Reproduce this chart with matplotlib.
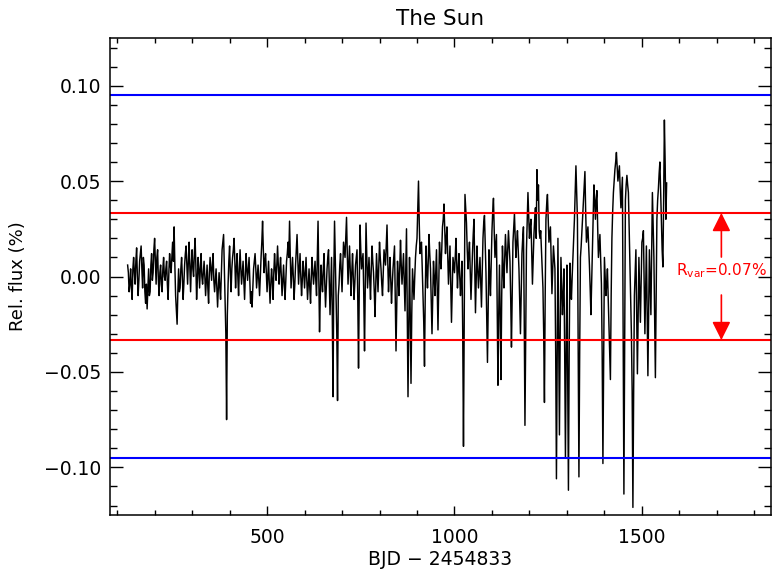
import matplotlib
matplotlib.use('Agg')
import matplotlib.pyplot as plt
from matplotlib.ticker import MultipleLocator

# ---- data (BJD - 2454833, relative flux in %) ----
days = [
    128, 132, 136, 140, 144, 148, 152, 156, 160, 164, 168, 172, 176, 180, 184, 188, 192, 196, 200, 204, 208, 212, 216, 220, 224,
    228, 232, 236, 240, 244, 248, 252, 256, 260, 264, 268, 272, 276, 280, 284, 288, 292, 296, 300, 304, 308, 312, 316, 320, 324,
    328, 332, 336, 340, 344, 348, 352, 356, 360, 364, 368, 372, 376, 380, 384, 388, 392, 396, 400, 404, 408, 412, 416, 420, 424,
    428, 432, 436, 440, 444, 448, 452, 456, 460, 464, 468, 472, 476, 480, 484, 488, 492, 496, 500, 504, 508, 512, 516, 520, 524,
    528, 532, 536, 540, 544, 548, 552, 556, 560, 564, 568, 572, 576, 580, 584, 588, 592, 596, 600, 604, 608, 612, 616, 620, 624,
    628, 632, 636, 640, 644, 648, 652, 656, 660, 664, 668, 672, 676, 680, 684, 688, 692, 696, 700, 704, 708, 712, 716, 720, 724,
    728, 732, 736, 740, 744, 748, 752, 756, 760, 764, 768, 772, 776, 780, 784, 788, 792, 796, 800, 804, 808, 812, 816, 820, 824,
    828, 832, 836, 840, 844, 848, 852, 856, 860, 864, 868, 872, 876, 880, 884, 888, 892, 896, 900, 904, 908, 912, 916, 920, 924,
    928, 932, 936, 940, 944, 948, 952, 956, 960, 964, 968, 972, 976, 980, 984, 988, 992, 996, 1000, 1004, 1008, 1012, 1016, 1020, 1024,
    1028, 1032, 1036, 1040, 1044, 1048, 1052, 1056, 1060, 1064, 1068, 1072, 1076, 1080, 1084, 1088, 1092, 1096, 1100, 1104, 1108, 1112, 1116, 1120, 1124,
    1128, 1132, 1136, 1140, 1144, 1148, 1152, 1156, 1160, 1164, 1168, 1172, 1176, 1180, 1184, 1188, 1192, 1196, 1200, 1204, 1208, 1212, 1216, 1220, 1224,
    1228, 1232, 1236, 1240, 1244, 1248, 1252, 1256, 1260, 1264, 1268, 1272, 1276, 1280, 1284, 1288, 1292, 1296, 1300, 1304, 1308, 1312, 1316, 1320, 1324,
    1328, 1332, 1336, 1340, 1344, 1348, 1352, 1356, 1360, 1364, 1368, 1372, 1376, 1380, 1384, 1388, 1392, 1396, 1400, 1404, 1408, 1412, 1416, 1420, 1424,
    1428, 1432, 1436, 1440, 1444, 1448, 1452, 1456, 1460, 1464, 1468, 1472, 1476, 1480, 1484, 1488, 1492, 1496, 1500, 1504, 1508, 1512, 1516, 1520, 1524,
    1528, 1532, 1536, 1540, 1544, 1548, 1552, 1556, 1560, 1564, 1566,
]

flux = [
    0.006, -0.008, 0.004, -0.012, 0.010, -0.004, 0.015, -0.010, 0.008, 0.016, -0.006, 0.006, -0.014, -0.017, 0.004, -0.008, 0.012, 0.002, 0.020, -0.004, 0.014, -0.010, 0.006, -0.008, 0.010,
    -0.002, 0.008, -0.012, 0.012, 0.002, 0.018, 0.026, -0.010, -0.025, 0.004, -0.006, 0.010, -0.012, 0.006, 0.016, -0.004, 0.018, -0.008, 0.014, 0.000, 0.020, -0.012, 0.010, -0.006, 0.012,
    -0.004, 0.008, -0.010, 0.006, -0.014, 0.010, -0.002, 0.012, -0.008, 0.004, -0.016, 0.002, -0.012, 0.014, 0.022, -0.014, -0.075, -0.004, 0.016, -0.008, 0.010, 0.020, -0.006, 0.012, -0.010,
    0.014, -0.004, 0.008, -0.012, 0.012, -0.002, 0.010, -0.014, -0.016, 0.004, 0.012, -0.006, 0.006, -0.010, 0.010, 0.029, 0.002, 0.012, -0.008, 0.008, -0.014, 0.004, -0.012, 0.012, -0.002,
    0.016, -0.004, 0.010, -0.010, 0.006, -0.012, 0.008, 0.018, 0.029, -0.006, 0.010, -0.012, 0.006, 0.022, -0.004, 0.012, -0.010, 0.008, -0.006, 0.010, -0.012, 0.004, -0.014, 0.010, -0.004,
    0.008, -0.010, 0.029, -0.029, 0.006, -0.008, 0.012, -0.016, 0.004, 0.014, -0.020, 0.010, -0.063, 0.029, -0.010, -0.065, -0.004, 0.012, -0.008, 0.018, 0.010, 0.031, -0.004, 0.016, -0.010,
    0.012, -0.012, 0.006, 0.014, -0.048, 0.027, 0.004, 0.012, -0.039, 0.028, -0.006, 0.010, -0.012, 0.016, 0.002, -0.021, 0.012, -0.008, 0.018, 0.004, -0.010, 0.014, 0.006, 0.027, -0.008,
    0.010, -0.014, 0.004, 0.016, -0.039, 0.008, -0.010, 0.019, -0.004, 0.012, -0.018, 0.025, -0.063, 0.010, -0.056, 0.004, -0.012, 0.010, 0.020, 0.050, 0.012, 0.018, -0.010, -0.047, 0.016,
    -0.006, 0.022, 0.004, -0.030, 0.008, -0.010, 0.014, -0.028, 0.018, 0.004, 0.026, 0.038, 0.012, 0.026, -0.004, 0.016, -0.024, 0.010, 0.002, 0.020, -0.006, 0.012, -0.010, 0.008, -0.089,
    0.043, 0.028, 0.004, 0.018, -0.012, 0.012, 0.030, -0.019, 0.016, -0.006, 0.010, -0.016, 0.020, 0.032, 0.002, -0.045, 0.014, -0.010, 0.024, 0.041, 0.010, 0.022, -0.057, 0.006, -0.054,
    0.016, -0.006, 0.022, 0.002, 0.024, 0.008, -0.037, 0.018, 0.033, 0.010, 0.024, 0.004, -0.030, 0.012, 0.026, -0.078, 0.014, 0.044, 0.020, 0.030, -0.004, 0.022, 0.036, 0.056, 0.048,
    0.020, 0.014, -0.006, -0.066, 0.030, 0.043, 0.018, 0.026, -0.009, 0.016, 0.004, -0.106, 0.020, -0.083, 0.010, -0.020, 0.004, -0.095, 0.006, -0.112, 0.007, -0.012, 0.010, 0.030, 0.058,
    0.030, -0.105, 0.010, 0.024, 0.040, 0.055, 0.018, 0.026, 0.006, -0.020, 0.014, 0.048, 0.030, 0.045, 0.010, 0.022, -0.004, -0.098, 0.010, -0.010, 0.004, -0.026, -0.054, 0.020, 0.044,
    0.056, 0.065, 0.050, 0.058, 0.036, 0.052, -0.114, 0.040, 0.053, 0.044, 0.010, -0.030, -0.121, -0.010, 0.014, -0.051, 0.010, -0.024, 0.018, 0.024, -0.030, 0.016, -0.052, 0.014, -0.020,
    0.044, 0.010, -0.053, 0.030, 0.046, 0.060, 0.026, 0.005, 0.082, 0.030, 0.049,
]

# in-between readings, two days after each entry of `days` (up to 1562)
days_mid = [d + 2 for d in days[:-2]]
flux_mid = [
    0.002, -0.004, -0.006, 0.004, 0.002, 0.008, 0.000, -0.002, 0.012, 0.004, 0.010, -0.008, -0.004, -0.006, -0.010, 0.006, -0.002, 0.014, 0.008, 0.010, -0.002, 0.002, -0.004, 0.004, 0.000,
    0.004, -0.004, 0.002, 0.006, 0.010, 0.008, 0.006, -0.018, -0.008, -0.008, 0.004, 0.000, -0.004, 0.012, 0.006, 0.008, 0.004, 0.006, 0.004, 0.012, 0.006, -0.002, 0.004, 0.004, 0.000,
    0.002, 0.000, -0.002, -0.006, 0.002, 0.004, 0.006, -0.002, -0.002, -0.006, -0.006, -0.006, 0.002, 0.018, 0.004, -0.030, -0.020, 0.008, 0.002, 0.004, 0.014, 0.008, 0.004, 0.000, 0.004,
    0.004, 0.002, -0.002, 0.000, 0.004, 0.004, -0.002, -0.008, -0.006, 0.008, 0.004, 0.000, -0.002, 0.000, 0.018, 0.014, 0.008, 0.002, 0.000, -0.004, -0.004, -0.002, 0.002, 0.004, 0.006,
    0.006, 0.004, 0.000, -0.002, -0.004, -0.002, 0.012, 0.010, 0.010, 0.002, 0.000, -0.004, 0.014, 0.008, 0.004, 0.000, -0.002, 0.002, 0.002, -0.002, -0.004, -0.006, 0.000, 0.002, 0.002,
    -0.002, 0.010, 0.000, -0.010, -0.002, 0.004, -0.004, -0.006, 0.010, -0.004, -0.006, -0.020, 0.000, 0.008, -0.030, -0.010, 0.006, 0.002, 0.006, 0.014, 0.020, 0.012, 0.006, 0.002, 0.002,
    0.000, -0.004, 0.010, -0.012, -0.006, 0.014, 0.008, -0.010, -0.006, 0.010, 0.002, -0.002, 0.004, 0.008, -0.008, -0.004, 0.002, 0.006, 0.010, -0.004, 0.002, 0.010, 0.016, 0.008, 0.002,
    -0.002, -0.004, 0.010, -0.010, -0.016, 0.000, 0.004, 0.006, 0.004, -0.004, 0.004, -0.020, -0.024, -0.020, -0.020, -0.004, 0.000, 0.016, 0.034, 0.028, 0.016, 0.004, -0.024, -0.010, 0.004,
    0.008, 0.012, -0.012, -0.010, 0.000, 0.002, -0.006, -0.004, 0.010, 0.014, 0.030, 0.024, 0.020, 0.010, 0.006, -0.004, -0.006, 0.006, 0.010, 0.006, 0.004, 0.000, -0.002, -0.030, -0.020,
    0.036, 0.014, 0.012, 0.004, 0.000, 0.022, 0.006, -0.002, 0.004, 0.002, -0.004, 0.002, 0.028, 0.018, -0.020, -0.014, 0.000, 0.008, 0.034, 0.024, 0.016, -0.016, -0.020, -0.020, -0.010,
    0.004, 0.010, 0.012, 0.014, 0.016, -0.012, -0.008, 0.026, 0.020, 0.018, 0.014, -0.012, -0.008, 0.020, -0.020, -0.030, 0.030, 0.032, 0.026, 0.012, 0.010, 0.030, 0.020, 0.040, 0.024,
    0.024, 0.004, -0.030, -0.010, 0.038, 0.030, 0.022, 0.008, 0.004, 0.010, -0.040, -0.040, -0.030, -0.030, -0.006, -0.010, -0.040, -0.040, -0.050, -0.040, -0.004, 0.000, 0.020, 0.044, 0.044,
    -0.040, -0.040, 0.016, 0.032, 0.048, 0.034, 0.022, 0.016, -0.006, -0.002, 0.030, 0.040, 0.040, 0.026, 0.016, 0.008, -0.040, -0.040, 0.000, -0.004, -0.010, -0.040, -0.010, 0.034, 0.050,
    0.060, 0.058, 0.054, 0.046, 0.044, -0.030, -0.040, 0.048, 0.048, 0.026, -0.010, -0.060, -0.060, 0.002, -0.018, -0.020, -0.006, -0.004, 0.020, -0.002, -0.006, -0.016, -0.018, -0.004, 0.012,
    0.028, -0.020, -0.010, 0.040, 0.054, 0.044, 0.014, 0.040, 0.060,
]

outer_level = 0.095    # blue lines
rvar = 0.0666          # variability range, red lines at +-rvar/2
arrow_day = 1712

# merge both readings into one time-ordered curve
curve = sorted(zip(days + days_mid, flux + flux_mid))
t_all = [c[0] for c in curve]
f_all = [c[1] for c in curve]

plt.rcParams['font.family'] = ['DejaVu Sans']
plt.rcParams['mathtext.default'] = 'regular'

fig = plt.figure(figsize=(7.72, 5.71), dpi=100)
ax = fig.add_axes([0.1425, 0.098, 0.8560, 0.8355])

ax.plot(t_all, f_all, color='black', lw=1.05)

ax.axhline(outer_level, color='#0000ff', lw=1.5)
ax.axhline(-outer_level, color='#0000ff', lw=1.5)
ax.axhline(rvar / 2, color='#ff0000', lw=1.5)
ax.axhline(-rvar / 2, color='#ff0000', lw=1.5)

# R_var annotation with two arrows
arrow_kw = dict(arrowstyle='-|>,head_length=0.8,head_width=0.4', color='#ff0000',
                lw=1.2, mutation_scale=14, shrinkA=0, shrinkB=0)
ax.annotate('', xy=(arrow_day, rvar / 2), xytext=(arrow_day, 0.0102), arrowprops=arrow_kw)
ax.annotate('', xy=(arrow_day, -rvar / 2), xytext=(arrow_day, -0.0097), arrowprops=arrow_kw)
ax.text(arrow_day, 0.0029, r'R$_{\rm var}$=0.07%', color='#ff0000', fontsize=11,
        ha='center', va='center')

ax.set_xlim(81, 1844)
ax.set_ylim(-0.125, 0.125)

ax.xaxis.set_major_locator(MultipleLocator(500))
ax.xaxis.set_minor_locator(MultipleLocator(100))
ax.yaxis.set_major_locator(MultipleLocator(0.05))
ax.yaxis.set_minor_locator(MultipleLocator(0.01))
ax.yaxis.set_major_formatter(lambda v, p: f'{v:.2f}'.replace('-', '\u2212'))

ax.tick_params(axis='both', which='both', direction='in', top=True, right=True,
               width=1.0, labelsize=13.5)
ax.tick_params(axis='x', which='major', length=6.8, pad=9)
ax.tick_params(axis='x', which='minor', length=3.4)
ax.tick_params(axis='y', which='major', length=9.4, pad=6)
ax.tick_params(axis='y', which='minor', length=4.7)
ax.tick_params(axis='x', which='both', labeltop=False)
ax.tick_params(axis='y', which='both', labelright=False)

for s in ax.spines.values():
    s.set_linewidth(1.1)

ax.set_title('The Sun', fontsize=15.5, pad=9)
ax.set_xlabel('BJD \u2212 2454833', fontsize=13.5)
ax.set_ylabel('Rel. flux (%)', fontsize=13)
ax.xaxis.set_label_coords(0.5, -0.074)
ax.yaxis.set_label_coords(-0.125, 0.5)

fig.savefig('out.png', dpi=100)
